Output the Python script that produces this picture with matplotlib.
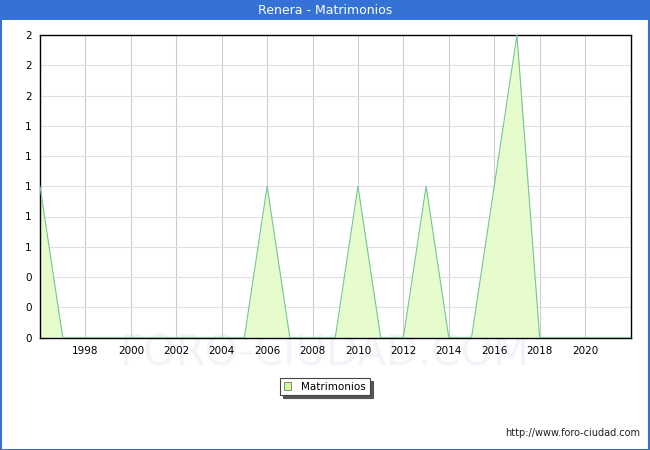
import matplotlib.pyplot as plt
from matplotlib.patches import Rectangle
from matplotlib.ticker import FuncFormatter

years = list(range(1996, 2023))
matrimonios = [1, 0, 0, 0, 0, 0, 0, 0, 0, 0, 1, 0, 0, 0, 1, 0, 0, 1, 0, 0, 1, 2, 0, 0, 0, 0, 0]
x_ticks = list(range(1998, 2021, 2))
y_ticks = [0, 0.2, 0.4, 0.6, 0.8, 1.0, 1.2, 1.4, 1.6, 1.8, 2.0]


def main():
    fig = plt.figure(figsize=(6.5, 4.5), dpi=100)
    fig.patch.set_facecolor('white')

    # barra de titulo y borde azul
    fig.patches.append(Rectangle((0, 1 - 20 / 450), 1, 20 / 450, transform=fig.transFigure,
                                 facecolor='#3472d6', edgecolor='none', zorder=0))
    fig.patches.append(Rectangle((0.5 / 650, 0.5 / 450), 1 - 1.5 / 650, 1 - 1 / 450,
                                 transform=fig.transFigure, facecolor='none',
                                 edgecolor='#3472d6', linewidth=1.5, zorder=0))
    fig.text(0.5, 1 - 10.5 / 450, 'Renera - Matrimonios', color='white', fontsize=9,
             ha='center', va='center')

    # marca de agua (muy tenue, detras de todo)
    fig.text(0.5, 1 - 354 / 450, 'FORO-CIUDAD.COM', color='#f3f3fa', fontsize=30,
             ha='center', va='center', zorder=-5)

    ax = fig.add_axes([40 / 650, 1 - 337.5 / 450, 590.5 / 650, 302.5 / 450])
    ax.patch.set_alpha(0)
    ax.fill_between(years, matrimonios, 0, color='#e6fccc', linewidth=0, zorder=2)
    ax.plot(years, matrimonios, color='#77c497', linewidth=0.8, zorder=3)

    ax.set_xlim(1996, 2022)
    ax.set_ylim(0, 2)
    ax.set_xticks(x_ticks)
    ax.set_yticks(y_ticks)
    ax.yaxis.set_major_formatter(FuncFormatter(lambda v, p: '%.0f' % v))
    ax.tick_params(length=0, labelsize=7.5, pad=6)
    ax.grid(axis='x', color='#cccccc', linewidth=0.8)
    ax.grid(axis='y', color='#e0e0e0', linewidth=0.8)
    ax.set_axisbelow(True)
    for s in ax.spines.values():
        s.set_linewidth(1.0)
        s.set_color('black')

    leg = fig.legend([Rectangle((0, 0), 1, 1, facecolor='#ccff99', edgecolor='#777777', linewidth=0.6)],
                     ['Matrimonios'], loc='center', bbox_to_anchor=(325 / 650, 1 - 386.5 / 450),
                     fontsize=7.5, frameon=True, fancybox=False, shadow={'color': '#555555', 'alpha': 1},
                     handlelength=0.7, handleheight=0.7, borderpad=0.35, handletextpad=1.0)
    leg.get_frame().set_edgecolor('#444444')
    leg.get_frame().set_linewidth(0.8)

    fig.text(640 / 650, 1 - 433 / 450, 'http://www.foro-ciudad.com', fontsize=7,
             ha='right', va='center', color='#222222')

    fig.savefig('out.png', dpi=100)


if __name__ == "__main__":
    main()
